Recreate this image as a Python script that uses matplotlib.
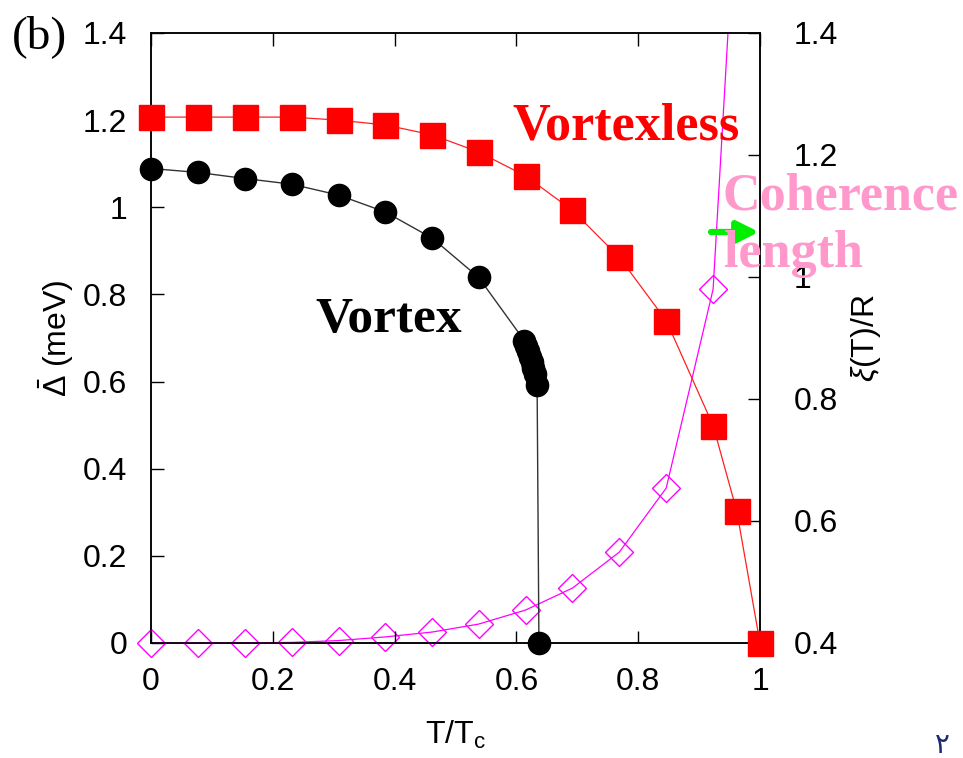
import numpy as np
import matplotlib
matplotlib.use("Agg")
import matplotlib.pyplot as plt

plt.rcParams['font.family'] = ['Liberation Sans', 'DejaVu Sans']
plt.rcParams['mathtext.fontset'] = 'custom'
plt.rcParams['mathtext.rm'] = 'Liberation Sans'
plt.rcParams['mathtext.it'] = 'Liberation Sans:italic'

# T/Tc grid (step 1/13) used by the two main curves
t_grid = [0.0, 0.077, 0.154, 0.231, 0.308, 0.385, 0.462, 0.538, 0.615, 0.692,
          0.769, 0.846, 0.923, 0.962, 1.0]

# vortexless gap (meV)
gap_vortexless = [1.207, 1.207, 1.207, 1.207, 1.200, 1.189, 1.166, 1.127, 1.072, 0.993,
                  0.885, 0.740, 0.499, 0.302, 0.0]

# vortex gap (meV)
t_vortex = [0.0, 0.077, 0.154, 0.231, 0.308, 0.385, 0.462, 0.538,
            0.613, 0.616, 0.619, 0.622, 0.625, 0.628, 0.631, 0.634, 0.637]
gap_vortex = [1.089, 1.080, 1.066, 1.053, 1.028, 0.989, 0.929, 0.839,
              0.694, 0.682, 0.670, 0.657, 0.645, 0.632, 0.618, 0.592, 0.0]

# coherence length xi(T)/R (right axis)
t_xi = [0.0, 0.077, 0.154, 0.231, 0.308, 0.385, 0.462, 0.538, 0.615, 0.692,
        0.769, 0.846, 0.923, 0.962]
xi = [0.400, 0.400, 0.400, 0.401, 0.404, 0.410, 0.418, 0.431, 0.454, 0.490,
      0.549, 0.654, 0.980, 1.65]

fig = plt.figure(figsize=(9.63, 7.58), dpi=100)
ax = fig.add_axes([151/963, 1-643/758, 609/963, 610/758])
ax2 = ax.twinx()

ax.plot(t_grid, gap_vortexless, color='#ff2020', lw=0.9, marker='s', ms=18,
        mfc='#ff0000', mec='#ff0000', clip_on=False, zorder=4)
ax.plot(t_vortex, gap_vortex, color='#333333', lw=1.0, marker='o', ms=16,
        mfc='black', mec='black', clip_on=False, zorder=5)

# line is clipped at the top, visible diamonds are drawn unclipped
ax2.plot(t_xi, xi, color='#ff00ff', lw=0.9, zorder=3)
xi_arr = np.array(xi)
vis = xi_arr <= 1.4
ax2.plot(np.array(t_xi)[vis], xi_arr[vis], ls='none', marker='D', ms=14,
         mfc='none', mec='#ff00ff', mew=1.0, clip_on=False, zorder=3)

ax.set_xlim(0, 1)
ax.set_ylim(0, 1.4)
ax2.set_ylim(0.4, 1.4)
ax.set_zorder(ax2.get_zorder() + 1)
ax.patch.set_visible(False)

ax.set_xticks([0, 0.2, 0.4, 0.6, 0.8, 1])
ax.set_xticklabels(['0', '0.2', '0.4', '0.6', '0.8', '1'])
ax.set_yticks([0, 0.2, 0.4, 0.6, 0.8, 1.0, 1.2, 1.4])
ax.set_yticklabels(['0', '0.2', '0.4', '0.6', '0.8', '1', '1.2', '1.4'])
ax2.set_yticks([0.4, 0.6, 0.8, 1.0, 1.2, 1.4])
ax2.set_yticklabels(['0.4', '0.6', '0.8', '1', '1.2', '1.4'])

ax.tick_params(axis='x', direction='in', length=9, width=1, labelsize=23,
               pad=17, top=True)
ax.tick_params(axis='y', direction='in', length=9, width=1, labelsize=23, pad=17)
ax2.tick_params(axis='y', direction='in', length=9, width=1, labelsize=23, pad=24)
for a in (ax, ax2):
    for s in a.spines.values():
        s.set_linewidth(1.1)

ax.set_xlabel(r'T/T$_\mathrm{c}$', fontsize=23, labelpad=16)
ax.set_ylabel(r'$\bar{\Delta}$ (meV)', fontsize=23, labelpad=5)
ax2.set_ylabel(r'$\xi$(T)/R', fontsize=23, labelpad=8)

serif = 'Liberation Serif'
fig.text(12/963, 1-48/758, '(b)', family=serif, fontsize=34, va='baseline')
fig.text(512/963, 1-139/758, 'Vortexless', family=serif, fontsize=37.5,
         fontweight='bold', color='#ff0000', va='baseline', zorder=10)
fig.text(315/963, 1-332/758, 'Vortex', family=serif, fontsize=37,
         fontweight='bold', color='black', va='baseline', zorder=10)
fig.text(722/963, 1-210/758, 'Coherence', family=serif, fontsize=37.5,
         fontweight='bold', color='#ff99cc', va='baseline', zorder=10)
fig.text(724/963, 1-267/758, 'length', family=serif, fontsize=37.5,
         fontweight='bold', color='#ff99cc', va='baseline', zorder=10)

ax.annotate('', xy=(759/963, 1-232/758), xytext=(711/963, 1-232/758),
            xycoords='figure fraction', textcoords='figure fraction',
            arrowprops=dict(arrowstyle='-|>', color='#00ee00', lw=4.5,
                            mutation_scale=32, shrinkA=0, shrinkB=0),
            annotation_clip=False, zorder=11)

fig.text(935/963, 1-753/758, '\u0662', family='DejaVu Sans', fontsize=20,
         color='#1a2a6c', va='baseline')

fig.savefig('out.png', dpi=100)
